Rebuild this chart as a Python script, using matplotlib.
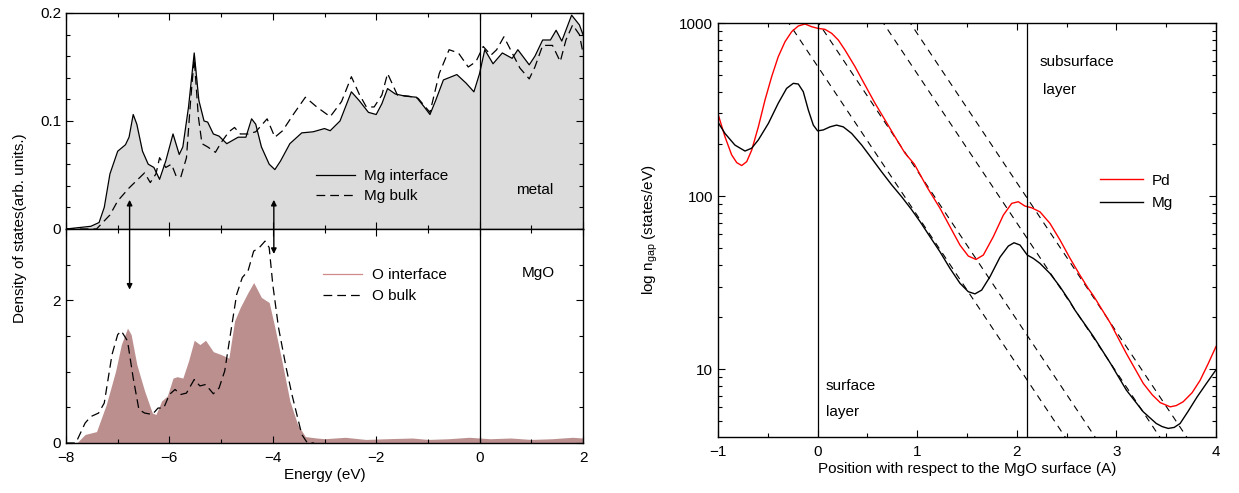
import numpy as np
import matplotlib
matplotlib.use("Agg")
import matplotlib.pyplot as plt
from matplotlib.ticker import MultipleLocator, LogLocator, NullFormatter
from matplotlib.patches import ConnectionPatch

plt.rcParams['font.family'] = ['Liberation Sans', 'DejaVu Sans']
plt.rcParams['font.size'] = 11

# Mg partial DOS (metal side)
mg_int_e = [-8.0, -7.52, -7.36, -7.26, -7.15, -7.0, -6.85, -6.78, -6.70, -6.63, -6.52, -6.41, -6.30,
            -6.19, -6.07, -5.93, -5.81, -5.74, -5.63, -5.52, -5.43, -5.33, -5.26, -5.15, -5.04,
            -4.89, -4.78, -4.67, -4.52, -4.41, -4.33, -4.22, -4.07, -3.96, -3.85, -3.67, -3.44,
            -3.22, -3.0, -2.89, -2.70, -2.48, -2.33, -2.15, -2.0, -1.89, -1.78, -1.63, -1.44,
            -1.22, -1.07, -0.96, -0.85, -0.70, -0.44, -0.26, -0.11, 0.0, 0.10, 0.26, 0.44, 0.63,
            0.74, 0.96, 1.07, 1.22, 1.37, 1.48, 1.59, 1.78, 1.93, 2.0]
mg_int_dos = [0.0, 0.0025, 0.006, 0.02, 0.051, 0.072, 0.078, 0.085, 0.106, 0.097, 0.072, 0.060, 0.057,
              0.046, 0.063, 0.088, 0.069, 0.076, 0.113, 0.163, 0.119, 0.100, 0.099, 0.088, 0.086,
              0.079, 0.082, 0.085, 0.085, 0.102, 0.097, 0.076, 0.060, 0.055, 0.063, 0.079, 0.089,
              0.090, 0.093, 0.091, 0.100, 0.127, 0.119, 0.108, 0.106, 0.116, 0.130, 0.125, 0.123,
              0.122, 0.113, 0.106, 0.119, 0.138, 0.143, 0.135, 0.127, 0.144, 0.166, 0.153, 0.163, 0.158,
              0.166, 0.152, 0.160, 0.175, 0.175, 0.184, 0.174, 0.198, 0.189, 0.180]

mg_bulk_e = [-8.0, -7.41, -7.15, -7.0, -6.78, -6.48, -6.37, -6.26, -6.19, -6.07, -5.96, -5.87, -5.78,
             -5.67, -5.59, -5.52, -5.44, -5.37, -5.26, -5.11, -5.0, -4.85, -4.74, -4.63, -4.48,
             -4.33, -4.11, -3.96, -3.81, -3.59, -3.37, -3.15, -2.89, -2.67, -2.48, -2.33, -2.19,
             -2.04, -1.89, -1.78, -1.59, -1.37, -1.19, -0.96, -0.78, -0.59, -0.41, -0.22, -0.07,
             0.07, 0.22, 0.33, 0.47, 0.63, 0.78, 0.96, 1.07, 1.22, 1.41, 1.56, 1.67, 1.80, 1.93, 2.0]
mg_bulk_dos = [0.0, 0.0, 0.013, 0.026, 0.038, 0.052, 0.043, 0.051, 0.066, 0.057, 0.060, 0.049, 0.048,
               0.066, 0.119, 0.158, 0.104, 0.079, 0.076, 0.071, 0.080, 0.090, 0.094, 0.088, 0.088,
               0.090, 0.102, 0.085, 0.091, 0.107, 0.122, 0.113, 0.104, 0.118, 0.141, 0.125, 0.113,
               0.113, 0.124, 0.144, 0.124, 0.123, 0.121, 0.108, 0.144, 0.166, 0.163, 0.150, 0.155,
               0.169, 0.161, 0.166, 0.178, 0.163, 0.149, 0.139, 0.150, 0.170, 0.170, 0.155, 0.175,
               0.189, 0.180, 0.163]

# O partial DOS (oxide side)
o_int_e = [-8.0, -7.78, -7.63, -7.41, -7.22, -7.04, -6.93, -6.81, -6.74, -6.63, -6.48, -6.33, -6.26,
           -6.15, -6.04, -5.93, -5.85, -5.74, -5.63, -5.52, -5.41, -5.30, -5.15, -5.0, -4.85,
           -4.74, -4.63, -4.48, -4.37, -4.22, -4.07, -3.96, -3.81, -3.67, -3.52, -3.37, -3.15,
           -3.0, -2.6, -2.2, -1.8, -1.3, -1.0, -0.6, -0.2, 0.2, 0.6, 1.0, 1.4, 1.8, 2.0]
o_int_dos = [0.0, 0.01, 0.12, 0.16, 0.54, 1.01, 1.38, 1.61, 1.52, 1.10, 0.73, 0.42, 0.40,
             0.59, 0.66, 0.91, 0.93, 0.91, 1.15, 1.44, 1.38, 1.44, 1.28, 1.24, 1.19,
             1.71, 1.90, 2.11, 2.25, 2.04, 1.97, 1.62, 1.10, 0.59, 0.26, 0.09, 0.07,
             0.06, 0.08, 0.05, 0.06, 0.07, 0.05, 0.06, 0.08, 0.06, 0.07, 0.05, 0.06, 0.08, 0.07]

o_bulk_e = [-8.0, -7.81, -7.63, -7.52, -7.37, -7.26, -7.11, -7.0, -6.93, -6.81, -6.70, -6.59, -6.48,
            -6.33, -6.22, -6.11, -6.0, -5.89, -5.78, -5.67, -5.52, -5.41, -5.30, -5.15, -5.04,
            -4.93, -4.81, -4.70, -4.59, -4.48, -4.37, -4.26, -4.15, -4.07, -4.0, -3.89, -3.74,
            -3.63, -3.44, -3.33, -3.2]
o_bulk_dos = [0.0, 0.0, 0.28, 0.37, 0.42, 0.56, 1.24, 1.52, 1.57, 1.43, 0.91, 0.47, 0.42,
              0.40, 0.49, 0.49, 0.68, 0.75, 0.68, 0.70, 0.89, 0.80, 0.82, 0.69, 0.77,
              1.01, 1.57, 2.08, 2.32, 2.41, 2.69, 2.74, 2.83, 2.74, 2.22, 1.62, 1.05,
              0.68, 0.12, 0.0, 0.0]

# arrows linking Mg and O features: energy, tip in Mg panel, tip in O panel
arrow_e = [-6.77, -3.98]
arrow_mg = [0.027, 0.027]
arrow_o = [2.15, 2.65]

# n_gap versus position
pos_pd = [-1.0, -0.93, -0.863, -0.812, -0.762, -0.712, -0.662, -0.595, -0.528, -0.461, -0.395,
          -0.327, -0.26, -0.194, -0.127, -0.06, 0.0, 0.074, 0.142, 0.208, 0.275, 0.376, 0.476,
          0.576, 0.677, 0.777, 0.877, 0.971, 1.097, 1.229, 1.329, 1.43, 1.513, 1.59, 1.664,
          1.764, 1.865, 1.949, 2.015, 2.082, 2.15, 2.233, 2.333, 2.434, 2.534, 2.634, 2.718,
          2.77, 2.94, 3.10, 3.27, 3.36, 3.44, 3.54, 3.60, 3.67, 3.76, 3.84, 3.92, 4.0]
n_pd = [298, 220, 173, 156, 150, 158, 184, 251, 359, 490, 639,
        780, 891, 961, 987, 952, 932, 919, 871, 797, 698, 559, 438,
        344, 275, 220, 177, 153, 113, 85, 66.5, 52, 45, 43, 45.6,
        58.2, 77.6, 90.7, 92.7, 87.5, 85.5, 81, 69.5, 55.7, 43.7, 34.9, 29.2,
        26.5, 18.4, 12.3, 8.26, 7.1, 6.4, 6.05, 6.15, 6.47, 7.3, 8.6, 10.7, 13.5]

pos_mg = [-1.0, -0.93, -0.83, -0.729, -0.662, -0.595, -0.494, -0.395, -0.311, -0.244, -0.194,
          -0.144, -0.093, -0.043, 0.0, 0.057, 0.124, 0.19, 0.258, 0.342, 0.443, 0.543, 0.643,
          0.744, 0.844, 0.94, 1.03, 1.13, 1.229, 1.329, 1.43, 1.513, 1.58, 1.647, 1.731, 1.831,
          1.915, 1.972, 2.032, 2.105, 2.166, 2.233, 2.333, 2.434, 2.534, 2.584, 2.77, 2.94,
          3.10, 3.27, 3.40, 3.46, 3.52, 3.58, 3.64, 3.72, 3.81, 3.90, 4.0]
n_mg = [267, 230, 197, 182, 189, 211, 263, 344, 419, 448, 444,
        401, 314, 257, 238, 241, 251, 257, 251, 230, 197, 165, 138,
        116, 99, 84, 71, 58, 47.6, 38.2, 31.3, 28, 27.2, 28.6, 34.2, 44.3,
        51.4, 53.7, 52.1, 45.6, 43.6, 40.8, 35.7, 29.9, 24.5, 21.9, 15.4, 10.8,
        7.56, 5.66, 4.85, 4.65, 4.54, 4.6, 4.85, 5.7, 6.9, 8.2, 9.9]

# exponential decay guides: position where each reaches 1000, decades per A
guide_x0 = [-0.29, 0.01, 0.66, 0.93]
guide_slope = 0.862

fig = plt.figure(figsize=(12.39, 4.93), dpi=100)
W, H = 1239.0, 493.0
ax_top = fig.add_axes([66 / W, 1 - 229 / H, 517 / W, 216 / H])
ax_bot = fig.add_axes([66 / W, 1 - 443 / H, 517 / W, 214 / H])
ax_r = fig.add_axes([718 / W, 1 - 437 / H, 498 / W, 414 / H])

for ax in (ax_top, ax_bot, ax_r):
    ax.tick_params(which='both', direction='in', top=True, right=True, labelsize=11)
    ax.tick_params(which='major', length=5, width=0.8)
    ax.tick_params(which='minor', length=3, width=0.8)
    ax.tick_params(axis='x', which='both', pad=6)
    for s in ax.spines.values():
        s.set_linewidth(1.0)

# metal panel
ax_top.fill_between(mg_int_e, mg_int_dos, 0, color='#dcdcdc', lw=0)
ax_top.plot(mg_int_e, mg_int_dos, color='black', lw=0.9, label='Mg interface')
ax_top.plot(mg_bulk_e, mg_bulk_dos, color='black', lw=0.9, dashes=(7, 4), label='Mg bulk')
ax_top.axvline(0, color='black', lw=0.9)
ax_top.set_xlim(-8, 2)
ax_top.set_ylim(0, 0.2)
ax_top.set_yticks([0, 0.1, 0.2])
ax_top.set_yticklabels(['0', '0.1', '0.2'])
ax_top.yaxis.set_minor_locator(MultipleLocator(0.02))
ax_top.xaxis.set_major_locator(MultipleLocator(2))
ax_top.xaxis.set_minor_locator(MultipleLocator(1))
ax_top.tick_params(labelbottom=False)
ax_top.legend(loc='lower left', bbox_to_anchor=(0.456, 0.055), frameon=False, fontsize=11,
              handlelength=2.6, labelspacing=0.4, handletextpad=0.6)
ax_top.text(1.07, 0.036, 'metal', ha='center', va='center', fontsize=11)

# oxide panel
ax_bot.fill_between(o_int_e, o_int_dos, 0, color='#bc8f8f', lw=0)
ax_bot.plot([], [], color='#d08a8a', lw=0.9, label='O interface')
ax_bot.plot(o_bulk_e, o_bulk_dos, color='black', lw=0.9, dashes=(7, 4), label='O bulk')
ax_bot.axvline(0, color='black', lw=0.9)
ax_bot.set_xlim(-8, 2)
ax_bot.set_ylim(0, 3)
ax_bot.set_yticks([0, 2])
ax_bot.yaxis.set_minor_locator(MultipleLocator(0.5))
ax_bot.set_xticks([-8, -6, -4, -2, 0, 2])
ax_bot.set_xticklabels(['\u22128', '\u22126', '\u22124', '\u22122', '0', '2'])
ax_bot.xaxis.set_minor_locator(MultipleLocator(1))
ax_bot.set_xlabel('Energy (eV)', fontsize=11, labelpad=2)
ax_bot.legend(loc='lower left', bbox_to_anchor=(0.47, 0.59), frameon=False, fontsize=11,
              handlelength=2.6, labelspacing=0.45, handletextpad=0.6)
ax_bot.text(1.13, 2.38, 'MgO', ha='center', va='center', fontsize=11)

fig.text(20 / W, 1 - 228 / H, 'Density of states(arb. units.)', rotation=90,
         ha='center', va='center', fontsize=11)

for e, a, b in zip(arrow_e, arrow_mg, arrow_o):
    arr = ConnectionPatch(xyA=(e, a), coordsA=ax_top.transData,
                          xyB=(e, b), coordsB=ax_bot.transData,
                          arrowstyle='<|-|>', mutation_scale=8, lw=1.0, color='black')
    fig.add_artist(arr)

# n_gap panel
xg = np.array([-1.0, 4.0])
for x0 in guide_x0:
    ax_r.plot(xg, 10 ** (3 - guide_slope * (xg - x0)), color='black', lw=0.8, dashes=(6, 5))
ax_r.plot(pos_pd, n_pd, color='red', lw=1.0, label='Pd')
ax_r.plot(pos_mg, n_mg, color='black', lw=1.0, label='Mg')
ax_r.axvline(0, color='black', lw=0.9)
ax_r.axvline(2.1, color='black', lw=0.9)
ax_r.set_yscale('log')
ax_r.set_xlim(-1, 4)
ax_r.set_ylim(4.05, 1000)
ax_r.set_yticks([10, 100, 1000])
ax_r.set_yticklabels(['10', '100', '1000'])
ax_r.yaxis.set_minor_locator(LogLocator(base=10, subs=np.arange(2, 10)))
ax_r.yaxis.set_minor_formatter(NullFormatter())
ax_r.set_xticks([-1, 0, 1, 2, 3, 4])
ax_r.set_xticklabels(['\u22121', '0', '1', '2', '3', '4'])
ax_r.xaxis.set_minor_locator(MultipleLocator(0.5))
ax_r.set_xlabel('Position with respect to the MgO surface (A)', fontsize=11, labelpad=2)
ax_r.set_ylabel('log n$_{\\mathregular{gap}}$ (states/eV)', fontsize=11, labelpad=14)
ax_r.legend(loc='lower left', bbox_to_anchor=(0.74, 0.515), frameon=False, fontsize=11,
            handlelength=2.8, labelspacing=0.55, handletextpad=0.6)
ax_r.text(0.08, 7.98, 'surface', ha='left', va='center', fontsize=11)
ax_r.text(0.08, 5.64, 'layer', ha='left', va='center', fontsize=11)
ax_r.text(2.23, 596, 'subsurface', ha='left', va='center', fontsize=11)
ax_r.text(2.26, 410, 'layer', ha='left', va='center', fontsize=11)

fig.savefig('out.png', dpi=100)
